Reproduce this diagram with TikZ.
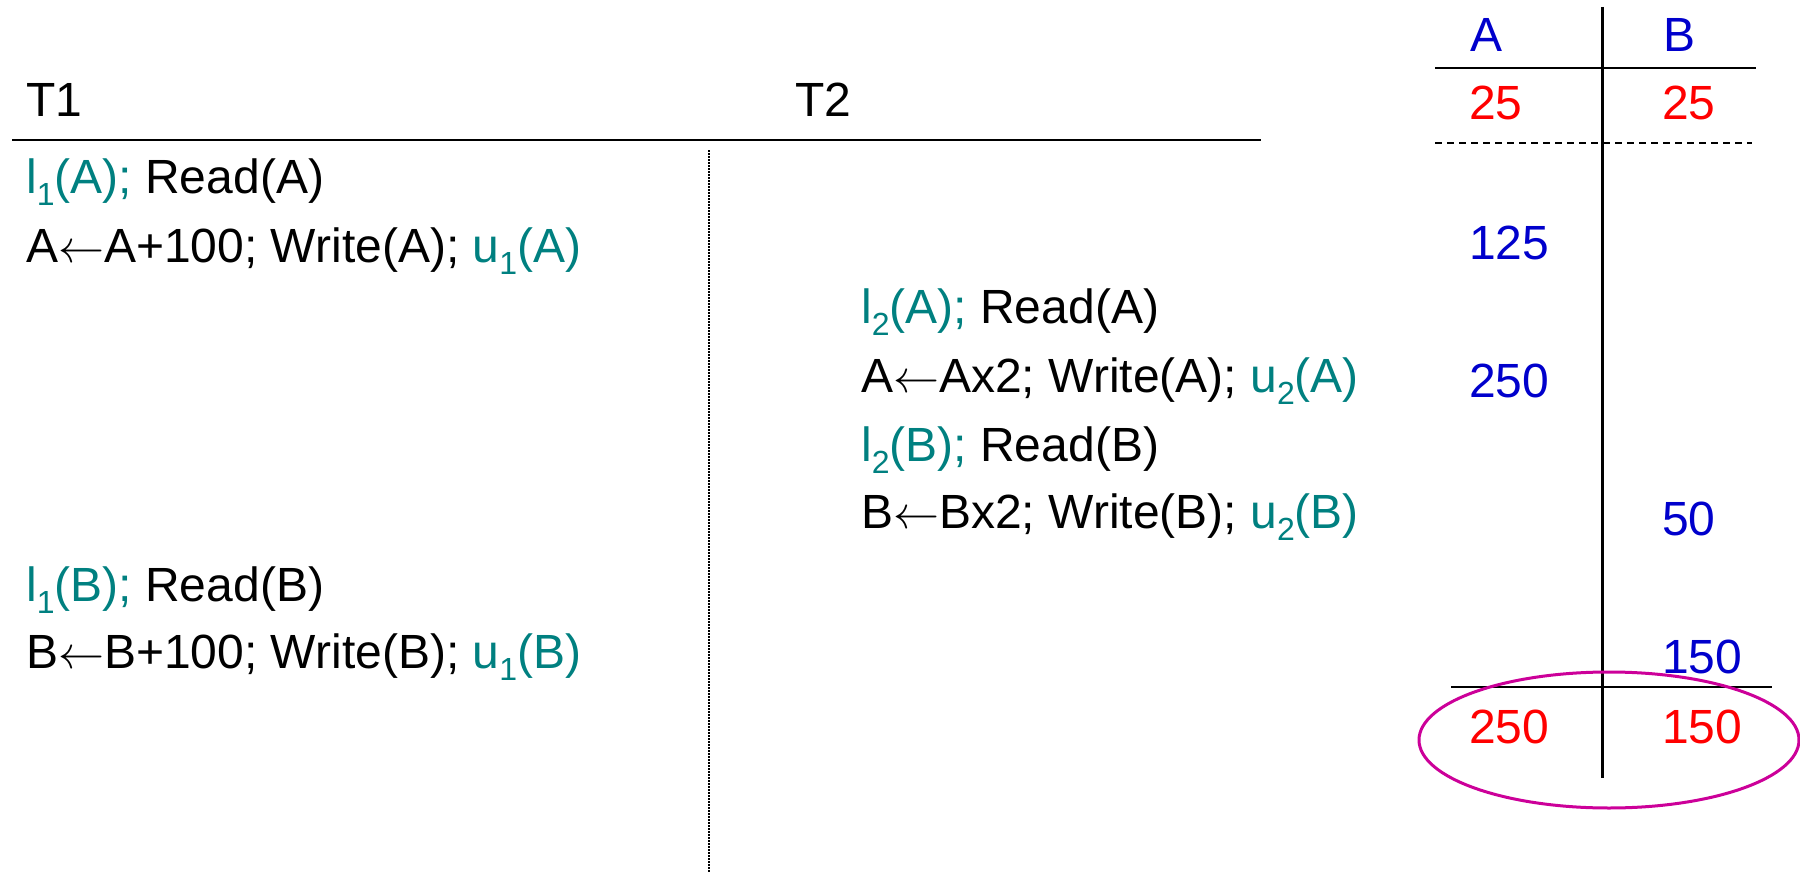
\documentclass[tikz,border=0pt]{standalone}
\usepackage{fontspec}
\setmainfont{Liberation Sans}
\definecolor{lockc}{RGB}{0,128,128}
\definecolor{valblue}{RGB}{0,0,204}
\definecolor{valred}{RGB}{255,0,0}
\definecolor{ringc}{RGB}{204,0,153}
\newcommand{\lsub}[1]{\raisebox{-12pt}{\fontsize{32}{32}\selectfont #1}}
\newcommand{\larr}{\scalebox{4.6}{\normalsize$\leftarrow$}}
\begin{document}
\begin{tikzpicture}[x=1pt,y=-1pt,
  txt/.style={anchor=base west,inner sep=0pt,font=\fontsize{48}{58}\selectfont},
  blueval/.style={txt,text=valblue},
  redval/.style={txt,text=valred},
  rule/.style={line width=2.7pt},
  tabrule/.style={line width=2pt}]
\useasboundingbox (0,0) rectangle (1800,875);
% headers
\node[txt] (t1) at (26,116) {T1};
\node[txt] (t2) at (795,116) {T2};
\coordinate (hl) at (12,140);
\coordinate (hr) at (1261,140);
\draw[rule] (hl) -- (hr);
\coordinate (dtop) at (709,150);
\coordinate (dbot) at (709,872);
\draw[line width=1.5pt, dash pattern=on 2pt off 1pt] (dtop) -- (dbot);
% T1 steps
\node[txt] (s1) at (26,193) {\textcolor{lockc}{l\lsub{1}(A);} Read(A)};
\node[txt] (s2) at (26,262) {A\larr A+100; Write(A); \textcolor{lockc}{u\lsub{1}(A)}};
% T2 steps
\node[txt] (s3) at (861,323) {\textcolor{lockc}{l\lsub{2}(A);} Read(A)};
\node[txt] (s4) at (861,392) {A\larr Ax2; Write(A); \textcolor{lockc}{u\lsub{2}(A)}};
\node[txt] (s5) at (861,461) {\textcolor{lockc}{l\lsub{2}(B);} Read(B)};
\node[txt] (s6) at (861,528) {B\larr Bx2; Write(B); \textcolor{lockc}{u\lsub{2}(B)}};
% T1 again
\node[txt] (s7) at (26,601) {\textcolor{lockc}{l\lsub{1}(B);} Read(B)};
\node[txt] (s8) at (26,668) {B\larr B+100; Write(B); \textcolor{lockc}{u\lsub{1}(B)}};
% table
\node[blueval] (ha) at (1470,52) {A};
\node[blueval] (hb) at (1663,52) {B};
\node[redval] (a0) at (1469,119) {25};
\node[redval] (b0) at (1662,119) {25};
\node[blueval] (a1) at (1469,259) {125};
\node[blueval] (a2) at (1469,397) {250};
\node[blueval] (b1) at (1662,535) {50};
\node[blueval] (b2) at (1662,673) {150};
\node[redval] (af) at (1469,743) {250};
\node[redval] (bf) at (1662,743) {150};
\coordinate (vt) at (1602,7);
\coordinate (vb) at (1602,778);
\draw[line width=3pt] (vt) -- (vb);
\draw[tabrule] (1435,68) -- (1756,68);
\draw[line width=1.5pt, dash pattern=on 7pt off 5pt] (1435,143) -- (1752,143);
\draw[tabrule] (1451,687) -- (1772,687);
\draw[ringc, line width=3pt] (1609,740) ellipse [x radius=190, y radius=68];
\end{tikzpicture}
\end{document}
